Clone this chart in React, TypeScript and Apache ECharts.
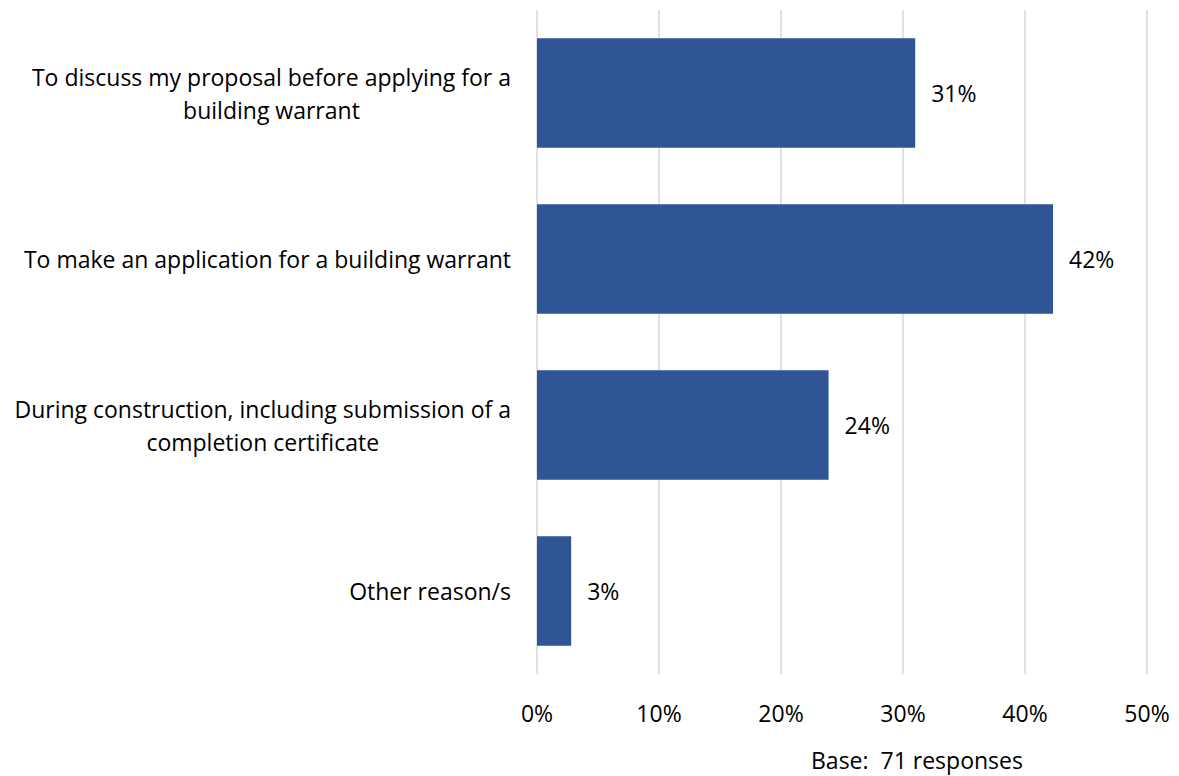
import React, { useEffect, useRef } from "react";
import * as echarts from "echarts";

const categories = [
  "To discuss my proposal before applying for a\nbuilding warrant",
  "To make an application for a building warrant",
  "During construction, including submission of a\ncompletion certificate",
  "Other reason/s",
];
const values = [31, 42.3, 23.9, 2.8];
const valueLabels = ["31%", "42%", "24%", "3%"];
const baseNote = "Base:  71 responses";
const FONT = "'Open Sans', sans-serif";
const FS = 23;

function measure(text: string): number {
  const c = document.createElement("canvas").getContext("2d")!;
  c.font = `${FS}px ${FONT}`;
  return c.measureText(text).width;
}

export default function App() {
  const ref = useRef<HTMLDivElement>(null);
  useEffect(() => {
    const chart = echarts.init(ref.current!, null, { renderer: "svg" });
    const rich: Record<string, any> = {};
    categories.forEach((cat, i) => {
      const w = Math.max(...cat.split("\n").map(measure)) + 2;
      rich["c" + i] = {
        width: w,
        align: "center",
        fontSize: FS,
        fontFamily: FONT,
        color: "#000",
        lineHeight: 33,
      };
    });
    chart.setOption({
      animation: false,
      backgroundColor: "#ffffff",
      textStyle: { fontFamily: FONT },
      grid: { left: 537, right: 32, top: 10, bottom: 102 },
      xAxis: {
        type: "value",
        min: 0,
        max: 50,
        interval: 10,
        axisLine: { show: false },
        axisTick: { show: false },
        splitLine: { show: true, lineStyle: { color: "#d9d9d9", width: 1.5 } },
        axisLabel: {
          formatter: "{value}%",
          color: "#000",
          fontSize: FS,
          fontFamily: FONT,
          margin: 27,
        },
      },
      yAxis: {
        type: "category",
        inverse: true,
        data: categories,
        axisLine: { show: false },
        axisTick: { show: false },
        axisLabel: {
          color: "#000",
          fontSize: FS,
          fontFamily: FONT,
          margin: 25,
          align: "right",
          formatter: (v: string, idx: number) =>
            v
              .split("\n")
              .map((l) => `{c${idx}|${l}}`)
              .join("\n"),
          rich,
        },
      },
      series: [
        {
          type: "bar",
          data: values,
          barCategoryGap: "34%",
          itemStyle: { color: "#2f5597" },
          label: {
            show: true,
            position: "right",
            distance: 16,
            color: "#000",
            fontSize: FS,
            fontFamily: FONT,
            formatter: (p: any) => valueLabels[p.dataIndex],
          },
        },
      ],
      graphic: [
        {
          type: "text",
          left: 811,
          top: 748,
          style: { text: baseNote, fill: "#000", fontSize: FS, fontFamily: FONT },
        },
      ],
    });
    return () => chart.dispose();
  }, []);
  return (
    <div
      ref={ref}
      style={{ position: "fixed", left: 0, top: 0, width: 1179, height: 776 }}
    />
  );
}
